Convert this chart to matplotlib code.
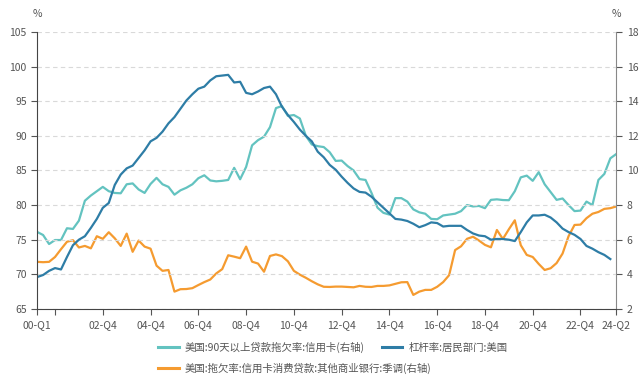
import numpy as np
import matplotlib
matplotlib.use("Agg")
import matplotlib.pyplot as plt
from matplotlib.lines import Line2D

plt.rcParams['font.family'] = ['Noto Sans CJK SC', 'DejaVu Sans']

# quarterly data, 2000-Q1 .. 2024-Q2
# 美国:90天以上贷款拖欠率:信用卡 (right axis, %)
card_90d = [6.45, 6.27, 5.75, 5.98, 5.98, 6.66, 6.62, 7.10, 8.25, 8.55,
            8.80, 9.05, 8.80, 8.70, 8.68, 9.20, 9.25, 8.90, 8.70, 9.22,
            9.57, 9.20, 9.05, 8.60, 8.85, 9.00, 9.20, 9.55, 9.72, 9.42,
            9.37, 9.40, 9.45, 10.15, 9.49, 10.20, 11.45, 11.75, 11.95, 12.50,
            13.60, 13.72, 13.15, 13.20, 13.00, 12.00, 11.50, 11.40, 11.35, 11.05,
            10.55, 10.57, 10.25, 10.00, 9.50, 9.45, 8.70, 7.85, 7.55, 7.45,
            8.40, 8.40, 8.20, 7.75, 7.58, 7.50, 7.20, 7.18, 7.40, 7.45,
            7.50, 7.65, 8.00, 7.92, 7.95, 7.82, 8.30, 8.33, 8.29, 8.28,
            8.80, 9.60, 9.70, 9.40, 9.90, 9.20, 8.75, 8.30, 8.38, 8.00,
            7.65, 7.68, 8.20, 8.00, 9.45, 9.80, 10.70, 10.95]

# 杠杆率:居民部门:美国 (left axis, %)
hh_leverage = [69.6, 69.9, 70.5, 70.9, 70.7, 72.5, 74.2, 75.0, 75.5, 76.7,
               78.0, 79.6, 80.3, 82.9, 84.4, 85.3, 85.7, 86.8, 87.9, 89.2,
               89.7, 90.6, 91.8, 92.7, 93.9, 95.1, 96.0, 96.8, 97.1, 98.0,
               98.6, 98.7, 98.8, 97.7, 97.8, 96.2, 96.0, 96.4, 96.9, 97.1,
               96.0, 94.2, 93.0, 92.0, 90.9, 90.0, 89.2, 87.7, 86.9, 85.8,
               85.1, 84.1, 83.2, 82.4, 81.9, 81.8, 81.2, 80.4, 79.6, 78.8,
               78.0, 77.9, 77.7, 77.3, 76.8, 77.1, 77.5, 77.4, 76.9, 77.0,
               77.0, 77.0, 76.4, 75.9, 75.6, 75.5, 75.0, 75.1, 75.1, 75.0,
               74.8, 76.1, 77.5, 78.5, 78.5, 78.6, 78.2, 77.5, 76.6, 76.1,
               75.7, 75.1, 74.1, 73.7, 73.2, 72.8, 72.2, np.nan]

# 美国:拖欠率:信用卡消费贷款:其他商业银行:季调 (right axis, %)
card_other_banks = [4.72, 4.70, 4.72, 5.00, 5.45, 5.88, 5.97, 5.55, 5.64, 5.50,
                    6.20, 6.05, 6.43, 6.08, 5.64, 6.35, 5.30, 5.95, 5.60, 5.48,
                    4.50, 4.20, 4.25, 3.00, 3.14, 3.15, 3.20, 3.38, 3.55, 3.70,
                    4.05, 4.30, 5.10, 5.02, 4.93, 5.60, 4.73, 4.62, 4.15, 5.06,
                    5.15, 5.05, 4.75, 4.20, 3.98, 3.80, 3.60, 3.42, 3.28, 3.27,
                    3.29, 3.29, 3.27, 3.25, 3.33, 3.28, 3.27, 3.33, 3.33, 3.36,
                    3.45, 3.54, 3.55, 2.81, 3.00, 3.10, 3.10, 3.28, 3.55, 3.95,
                    5.40, 5.62, 6.05, 6.17, 5.95, 5.70, 5.56, 6.56, 6.04, 6.60,
                    7.12, 5.68, 5.12, 5.00, 4.60, 4.25, 4.35, 4.65, 5.20, 6.20,
                    6.85, 6.87, 7.24, 7.50, 7.60, 7.78, 7.82, 7.92]

tick_pos = [0, 3, 11, 19, 27, 35, 43, 51, 59, 67, 75, 83, 91, 97]
tick_labels = ['00-Q1', '', '02-Q4', '04-Q4', '06-Q4', '08-Q4', '10-Q4', '12-Q4',
               '14-Q4', '16-Q4', '18-Q4', '20-Q4', '22-Q4', '24-Q2']

c_cyan = '#63C3C0'
c_blue = '#2E7DA6'
c_orange = '#F59B30'
txt = '#555555'

x = np.arange(len(card_90d))

fig = plt.figure(figsize=(6.4, 3.8), dpi=100)
ax = fig.add_axes([0.058, 0.187, 0.905, 0.729])
ax2 = ax.twinx()

ax.plot(x, hh_leverage, color=c_blue, lw=1.6)
ax2.plot(x, card_90d, color=c_cyan, lw=1.6)
ax2.plot(x, card_other_banks, color=c_orange, lw=1.6)
ax.set_zorder(ax2.get_zorder() + 1)
ax.patch.set_visible(False)

ax.set_xlim(0, 97)
ax.set_ylim(65, 105)
ax2.set_ylim(2, 18)
ax.set_yticks(np.arange(65, 106, 5))
ax2.set_yticks(np.arange(2, 19, 2))
ax.set_xticks(tick_pos)
ax.set_xticklabels(tick_labels)

ax.grid(axis='y', color='#d9d9d9', ls=(0, (4, 3)), lw=0.8)
for a in (ax, ax2):
    a.spines['top'].set_visible(False)
    a.tick_params(labelsize=7.5, colors=txt, length=4, width=0.8)
ax.spines['right'].set_visible(False)
ax2.spines['left'].set_visible(False)
ax2.spines['bottom'].set_visible(False)
ax.spines['left'].set_color('#444444')
ax.spines['bottom'].set_color('#444444')
ax2.spines['right'].set_color('#888888')
ax.tick_params(axis='x', pad=4)

fig.text(0.058, 0.962, '%', fontsize=7.5, color=txt, ha='center', va='center')
fig.text(0.9625, 0.962, '%', fontsize=7.5, color=txt, ha='center', va='center')

h1 = Line2D([], [], color=c_cyan, lw=2.2)
h2 = Line2D([], [], color=c_blue, lw=2.2)
h3 = Line2D([], [], color=c_orange, lw=2.2)
fig.legend([h1, h2], ['美国:90天以上贷款拖欠率:信用卡(右轴)', '杠杆率:居民部门:美国'],
           ncol=2, loc='center left', bbox_to_anchor=(0.232, 0.087),
           frameon=False, fontsize=7.5, handlelength=2.0, handletextpad=0.6,
           columnspacing=1.6, labelcolor=txt)
fig.legend([h3], ['美国:拖欠率:信用卡消费贷款:其他商业银行:季调(右轴)'],
           loc='center left', bbox_to_anchor=(0.232, 0.031),
           frameon=False, fontsize=7.5, handlelength=2.0, handletextpad=0.6,
           labelcolor=txt)

fig.savefig('out.png', dpi=100)
